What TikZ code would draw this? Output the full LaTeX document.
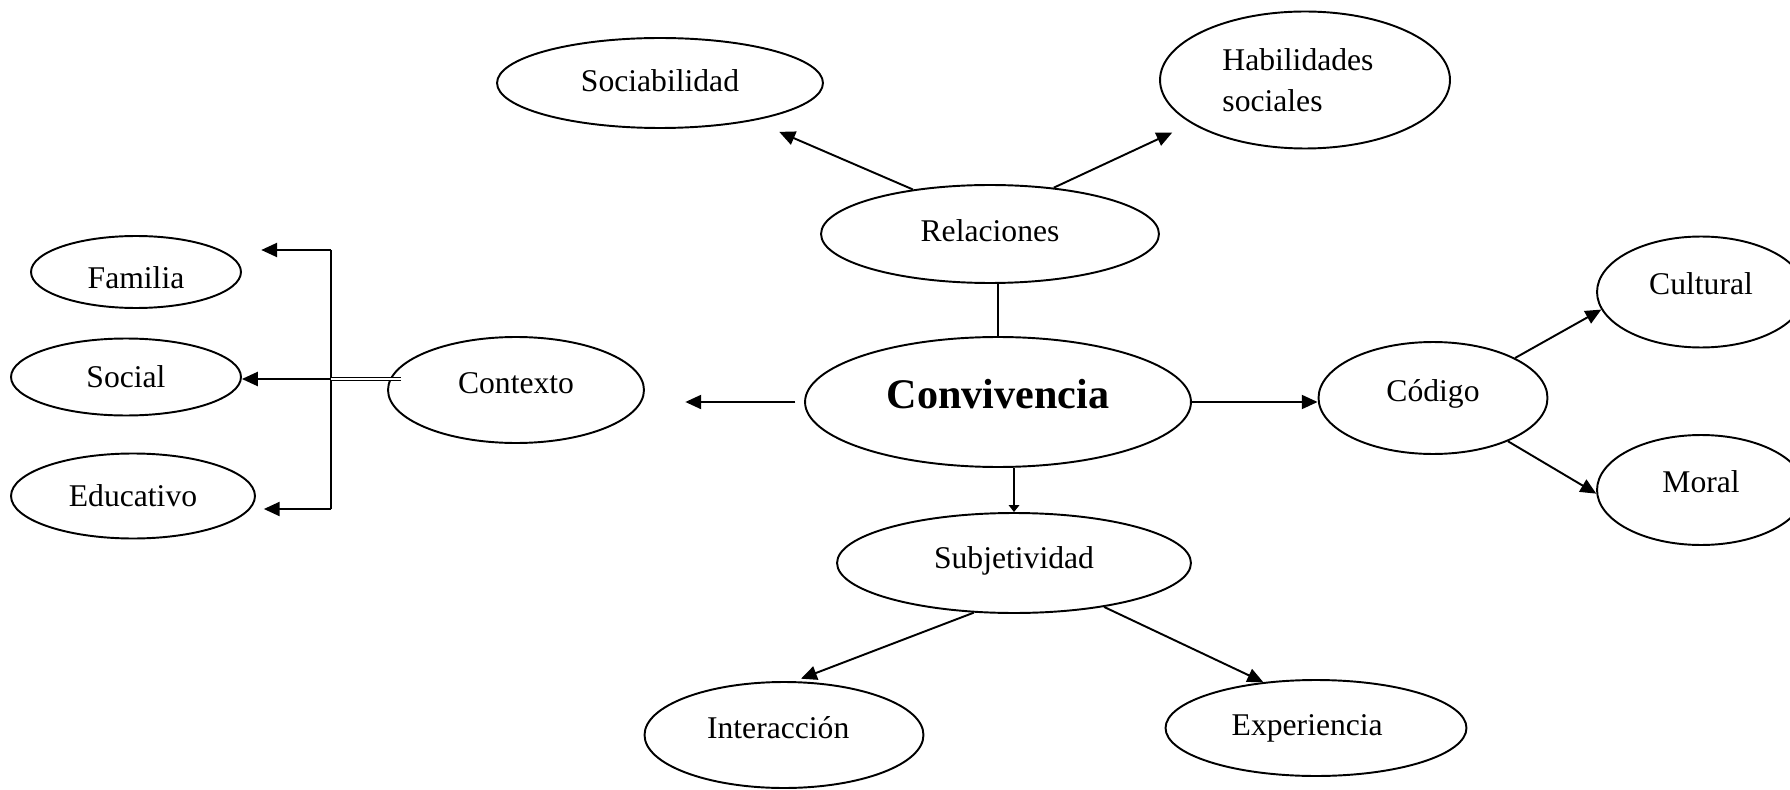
\documentclass[tikz,border=0pt]{standalone}
\usepackage{fontspec}
\setmainfont{Liberation Serif}
\usetikzlibrary{arrows.meta,shapes.geometric}

% move a label inside its ellipse without changing its box
\newcommand{\lift}[2]{\raisebox{#1}[\height][\depth]{#2}}
\newcommand{\nudge}[2]{\hspace*{#1}#2\hspace*{-#1}}

\begin{document}
\begin{tikzpicture}[->,>={Triangle[length=9pt,width=8pt]},line width=1.1pt,
                    x=0.02cm,y=-0.02cm,
                    idea/.style={ellipse,draw,inner sep=0pt,font=\fontsize{18}{23}\selectfont}]

  \useasboundingbox (0,0) rectangle (1790,790);

  \node[idea,minimum width=7.72cm,minimum height=2.6cm,
        font=\fontsize{24}{29}\selectfont\bfseries] (conv) at (998,402) {\lift{4.5pt}{Convivencia}};
  \node[idea,minimum width=6.76cm,minimum height=1.96cm] (rel) at (990,234) {\lift{2pt}{Relaciones}};
  \node[idea,minimum width=6.52cm,minimum height=1.8cm] (soc) at (660,83) {\lift{1.3pt}{Sociabilidad}};
  \node[idea,minimum width=5.8cm,minimum height=2.74cm,align=left] (hab) at (1305,80)
    {\hspace*{-8pt}Habilidades\\\hspace*{-8pt}sociales};
  \node[idea,minimum width=5.12cm,minimum height=2.12cm] (ctx) at (516,390) {\lift{3.9pt}{Contexto}};
  \node[idea,minimum width=4.2cm,minimum height=1.44cm] (fam) at (136,272) {\lift{-3pt}{Familia}};
  \node[idea,minimum width=4.6cm,minimum height=1.54cm] (soci) at (126,377) {Social};
  \node[idea,minimum width=4.88cm,minimum height=1.7cm] (edu) at (133,496) {Educativo};
  \node[idea,minimum width=4.58cm,minimum height=2.24cm] (cod) at (1433,398) {\lift{2.6pt}{Código}};
  \node[idea,minimum width=4.16cm,minimum height=2.22cm] (cult) at (1701,292) {\lift{5pt}{Cultural}};
  \node[idea,minimum width=4.16cm,minimum height=2.2cm] (mor) at (1701,490) {\lift{4.5pt}{Moral}};
  \node[idea,minimum width=7.08cm,minimum height=2cm] (subj) at (1014,563) {\lift{1.3pt}{Subjetividad}};
  \node[idea,minimum width=5.58cm,minimum height=2.12cm] (inter) at (784,735) {\nudge{-3.3pt}{\lift{3.9pt}{Interacción}}};
  \node[idea,minimum width=6.02cm,minimum height=1.92cm] (exp) at (1316,728) {\nudge{-5pt}{Experiencia}};

  % contexto branches
  \coordinate (jt) at (331,250);
  \coordinate (jm) at (331,379);
  \coordinate (jb) at (331,509);
  \draw[-] (jt) -- (jb);
  \draw[-,line width=0.7pt,double,double distance=0.8pt,shorten <=-8pt] (jm -| ctx.west) -- (jm);

  \path
    (rel.150) edge [shorten >=16pt] (soc.338)
    (rel.36) edge [shorten >=12pt] (hab.201)
    (rel.south -| conv.north) edge [-] (conv.north)
    (conv.south -| subj.north) edge [-{Triangle[length=4pt,width=6pt]}] (subj.north)
    (conv.west) edge [shorten <=5pt,shorten >=23pt] (conv.west -| ctx.east)
    (conv.east) edge (conv.east -| cod.west)
    (cod.26) edge (cult.190)
    (cod.330) edge (mor.182)
    (subj.231) edge [shorten >=4pt] (inter.79)
    (subj.334) edge (exp.139)
    (jt) edge [shorten >=11pt] (jt -| fam.east)
    (jm) edge (jm -| soci.east)
    (jb) edge [shorten >=4.5pt] (jb -| edu.east);
\end{tikzpicture}
\end{document}
